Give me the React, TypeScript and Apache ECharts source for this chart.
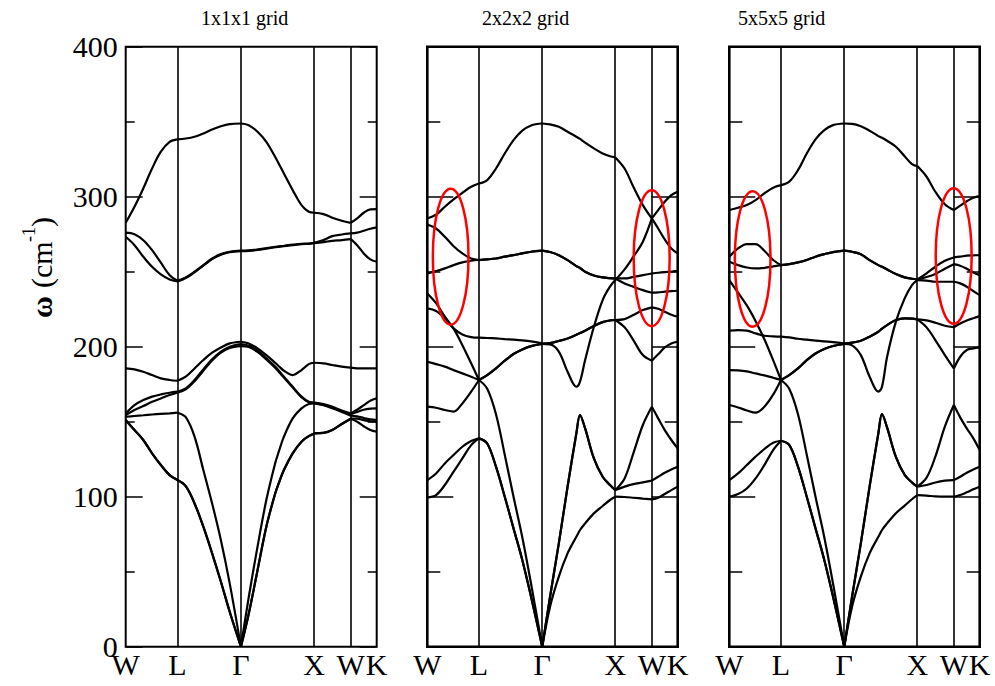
import React, { useEffect, useRef } from "react";
import * as echarts from "echarts";

// path coordinate (units of 2*pi/a) along W-L-Γ-X-W-K
const kPath = [0, 0.12, 0.24, 0.36, 0.48, 0.6, 0.707, 0.82, 0.94, 1.06, 1.18, 1.3, 1.42, 1.573, 1.68, 1.8, 1.92, 2.04, 2.09, 2.16, 2.28, 2.4, 2.5, 2.573, 2.7, 2.82, 2.95, 3.073, 3.16, 3.25, 3.34, 3.427];
const symPoints = [0, 0.707, 1.573, 2.573, 3.073, 3.427];
const symLabels = ["W", "L", "Γ", "X", "W", "K"];
const panelTitles = ["1x1x1 grid", "2x2x2 grid", "5x5x5 grid"];
const yMin = 0;
const yMax = 400;
const yStep = 100;

// 1x1x1 grid bands (cm^-1)
const g1Bands = [
  [282.6, 293.3, 305.5, 318.8, 330, 336.6, 338.2, 338.8, 340, 342.2, 344.8, 347, 348.4, 348.8, 347.7, 343.3, 336.6, 326.6, 322, 315.5, 304.4, 294.4, 290, 289.3, 288.4, 286, 284, 282.6, 285.5, 289.3, 291.5, 291.7],
  [276, 275, 271, 264.4, 256, 247.7, 244, 246.2, 250, 254.4, 258.8, 261.7, 263.3, 264, 264.2, 264.8, 265.7, 266.6, 266.9, 267.3, 268, 268.6, 268.8, 269.3, 271.1, 273.7, 274.8, 275.5, 276, 277.3, 278.6, 279.5],
  [273.3, 267.7, 260, 253.3, 248.2, 244.8, 243.5, 245.8, 249.6, 254, 258.4, 261.3, 263, 263.7, 263.9, 264.5, 265.4, 266.3, 266.6, 267, 267.7, 268.3, 268.6, 269, 269.7, 270.6, 271.1, 271.7, 267.7, 262.2, 258.2, 256.6],
  [185.5, 184.9, 183.3, 181.1, 178.9, 177.8, 177.3, 180, 185.5, 191.1, 196, 199.5, 202.2, 203.3, 202.2, 198.9, 194.4, 189.3, 187, 184, 181.1, 184.4, 188.4, 189.3, 188.9, 187.8, 186.7, 186, 185.6, 185.5, 185.5, 185.5],
  [155.5, 161.1, 164.4, 166.7, 168.2, 169.3, 170, 172.2, 177.8, 184.9, 191.6, 196.7, 200, 201.7, 200.7, 197.3, 192.2, 186.7, 184, 180, 173.3, 166.7, 163.3, 162.7, 161.8, 160, 157.5, 155.5, 158, 161, 164, 165.6],
  [154.4, 157.8, 160.4, 163.3, 165.5, 167.8, 169.3, 171.5, 177, 184, 190.8, 196, 199.2, 200.4, 199.8, 196.5, 191.5, 186, 183.3, 179.4, 172.8, 166.3, 163, 162.5, 161.3, 159.5, 157, 155, 156.5, 158, 158.7, 158.9],
  [153.3, 153.8, 154.3, 154.8, 155.2, 155.6, 156, 153, 140, 117.8, 95.5, 71, 42.2, 0, 33, 66.7, 97.8, 122.2, 130, 140, 152.2, 158.9, 161.8, 162.2, 161, 159, 156.5, 154, 153.5, 152.5, 151.5, 151.1],
  [151.1, 144.4, 137.8, 128.9, 121.1, 114.4, 111.1, 107, 95.5, 80, 62.2, 43.3, 23.3, 0, 22, 51, 80, 102, 109, 117.8, 128.9, 136.7, 140.4, 142.2, 142.5, 144.4, 148.5, 152, 152, 151, 150.3, 150],
  [151.1, 144.4, 137.8, 128.9, 121.1, 114.4, 111.1, 107, 95.5, 80, 62.2, 43.3, 23.3, 0, 22, 51, 80, 102, 109, 117.8, 128.9, 136.7, 140.4, 142.2, 142.5, 144.4, 148.5, 152, 150, 147, 144.5, 143.3],
];

// 2x2x2 grid bands
const g2Bands = [
  [285.5, 288, 293.3, 298.2, 302.6, 306.6, 308.8, 311.1, 318.8, 328.8, 337.7, 344, 347.5, 348.8, 348.2, 346.6, 343.3, 340, 338.5, 336, 332.2, 328.8, 327, 326.2, 318.8, 306.6, 294.4, 285.5, 278.8, 271.5, 265.5, 262.2],
  [281.5, 278.8, 273.3, 267, 262.2, 258.8, 257.8, 258.2, 258.8, 260, 261, 262.2, 263.3, 264, 263.1, 261, 257.7, 253.7, 252.5, 250, 247.5, 246.2, 245.7, 245.5, 245.5, 246.5, 247.7, 248.8, 249.3, 249.7, 250, 250.5],
  [248.8, 250.4, 252.2, 254.4, 256.2, 257.3, 257.8, 258.2, 258.8, 260, 261, 262.2, 263.3, 264, 263.1, 261, 257.7, 253.7, 252.5, 250, 247.5, 246.2, 245.7, 245.5, 242.2, 240, 237.7, 236, 236.2, 236.7, 237.1, 237.3],
  [235.5, 229, 220, 212, 201, 189, 177.8, 172, 155, 128, 100, 73, 42, 0, 33.3, 68.9, 106.7, 142.2, 154.4, 145.5, 125.5, 113.3, 107.8, 104.4, 112.2, 128.9, 147.8, 160, 152.2, 144.4, 137.8, 132.2],
  [225.5, 223.8, 218.9, 212.2, 208.2, 206.4, 206, 205.8, 205.5, 205.1, 204.7, 204.2, 203.5, 202.2, 202.4, 203.8, 205.5, 208, 209.1, 210.7, 213.8, 216.4, 217.5, 217.8, 218.4, 221.1, 224.4, 226.2, 225.3, 223.3, 221.3, 220],
  [190, 188.4, 186.7, 184.4, 182.2, 180, 177.8, 181.1, 185.5, 190.7, 195.1, 198.2, 200.4, 201.8, 201.5, 196.7, 183.3, 173.3, 176.7, 191.1, 213.3, 231.1, 240, 244.4, 251.5, 260, 270, 285.5, 291.1, 296.6, 301.1, 303.3],
  [160, 159.3, 157.8, 156.7, 162.2, 170, 177.8, 181.1, 185.5, 190.7, 195.1, 198.2, 200.4, 201.8, 202.4, 203.8, 205.5, 208, 209.1, 210.7, 213.8, 216.4, 217.5, 217.8, 212.9, 204.4, 194.4, 190.7, 194.9, 199.5, 202.2, 203.3],
  [111.1, 115.5, 122.2, 127.8, 133.3, 137.1, 138.9, 135.5, 120, 100, 78.9, 57.8, 33.3, 0, 33.3, 68.9, 106.7, 142.2, 154.4, 145.5, 125.5, 113.3, 107.8, 104.4, 106.7, 108.4, 109.5, 110.7, 113.3, 116, 118.2, 120],
  [99.5, 101.1, 107.8, 116.7, 125.5, 134.4, 138.9, 135.5, 120, 100, 78.9, 57.8, 33.3, 0, 26.7, 46.7, 62.2, 73.3, 77.8, 82.2, 88.9, 93.8, 97.8, 100, 99.8, 99.3, 98.7, 98.2, 99.3, 101.8, 104.4, 106.7],
];

// 5x5x5 grid bands
const g3Bands = [
  [291.1, 292.6, 294.4, 297.7, 302.2, 306, 307.7, 310, 317.7, 328.8, 338.2, 344.4, 347.7, 348.8, 348.6, 347, 344, 340.4, 339.3, 337.3, 333.3, 327, 321.7, 320.4, 313.3, 303.3, 295, 291.1, 294, 297, 299.3, 300.4],
  [260, 265.5, 268.4, 268.4, 264, 257.8, 254.4, 255, 256.2, 257.8, 260, 261.7, 263.1, 264, 263.3, 261.7, 257.7, 254.4, 253.3, 251.5, 248.4, 246.2, 245.3, 244.8, 248.9, 253.3, 257.3, 259.5, 260, 260.7, 260.9, 261.1],
  [256.6, 254.4, 252.8, 252.2, 252.6, 253.5, 254.4, 255, 256.2, 257.8, 260, 261.7, 263.1, 264, 263.3, 261.7, 257.7, 254.4, 253.3, 251.5, 248.4, 246.2, 245.3, 244.8, 246.5, 248.5, 252, 255, 254, 252, 249.5, 247.7],
  [244.4, 236, 227.5, 217, 205, 191, 177.8, 172, 155, 128, 100, 73, 42, 0, 33.3, 68.9, 106.7, 142.2, 155, 146, 126.5, 114.5, 109.5, 106.7, 112.7, 126.7, 146.7, 161.1, 152.9, 145.5, 138.9, 131.1],
  [210.7, 211.1, 210.7, 208.9, 207.3, 206.9, 206.7, 206.2, 205.3, 204.7, 204, 203.5, 203.1, 202.2, 202.7, 204, 206.7, 210, 212, 214.4, 217.8, 218.9, 218.7, 218.2, 217.5, 216, 214, 213, 215.5, 217.5, 219, 220.4],
  [184.4, 184.2, 183.5, 182.2, 180.9, 179.3, 177.8, 181.1, 185.5, 191, 195.5, 198.5, 200.5, 201.8, 200.9, 194.4, 180, 170, 173.3, 193.3, 216.7, 232.2, 241.1, 244.4, 244, 243.3, 243.3, 243.3, 242.2, 240, 237.1, 234.4],
  [161.1, 159.5, 157.5, 156, 160, 168, 177.8, 181.1, 185.5, 191, 195.5, 198.5, 200.5, 201.8, 202.7, 204, 206.7, 210, 212, 214.4, 217.8, 218.9, 218.7, 218.2, 212.9, 204.4, 194.4, 185.5, 193.3, 197.8, 198.9, 199.5],
  [111.1, 115.5, 121.1, 126.7, 131.8, 136, 137.3, 134.5, 120, 100, 78.9, 57.8, 33.3, 0, 33.3, 68.9, 106.7, 142.2, 155, 146, 126.5, 114.5, 109.5, 106.7, 107.8, 109.5, 110.7, 111.1, 113.3, 116, 118.2, 120],
  [100, 101.8, 105.5, 112.2, 121.1, 131.1, 137.3, 134.5, 120, 100, 78.9, 57.8, 33.3, 0, 26.7, 46.7, 62.2, 73.3, 77.8, 82.2, 89, 94, 98.3, 101, 100.7, 100.2, 100, 100, 101.1, 102.9, 104.9, 106.7],
];

// red ellipse annotations: [k centre, ω centre, k radius, ω radius]
const g2Ellipses = [
  [0.32, 260, 0.244, 45.3],
  [3.071, 259, 0.246, 45.3],
];
const g3Ellipses = [
  [0.32, 258.5, 0.244, 45.2],
  [3.071, 260.5, 0.246, 45.2],
];

const panelBands = [g1Bands, g2Bands, g3Bands];
const panelEllipses = [[], g2Ellipses, g3Ellipses];

// layout (px)
const gridLefts = [125.7, 427.3, 729.3];
const gridWidths = [251, 250.4, 250.4];
const gridTop = 46.7;
const gridHeight = 600;
const titleLefts = [201, 482, 738];
const FONT = "'Liberation Serif', 'Times New Roman', serif";

function symIndex(k: number) {
  return kPath.indexOf(k);
}

function buildOption() {
  const segBounds = symPoints.map(symIndex);
  const grids: any[] = [];
  const xAxes: any[] = [];
  const yAxes: any[] = [];
  const series: any[] = [];

  for (let p = 0; p < 3; p++) {
    const majorLen = p === 0 ? 17 : 26;
    const minorLen = p === 0 ? 9 : 13;
    grids.push({
      left: gridLefts[p],
      top: gridTop,
      width: gridWidths[p],
      height: gridHeight,
      show: true,
      borderColor: "#000",
      borderWidth: p === 0 ? 2 : 2.6,
      backgroundColor: "transparent",
    });
    xAxes.push({
      gridIndex: p,
      type: "value",
      min: symPoints[0],
      max: symPoints[symPoints.length - 1],
      axisLine: { show: false },
      axisTick: { show: false },
      splitLine: { show: false },
      axisLabel: {
        customValues: symPoints,
        formatter: (v: number) => {
          const i = symPoints.indexOf(v);
          return i >= 0 ? symLabels[i] : "";
        },
        fontFamily: FONT,
        fontSize: 30,
        color: "#000",
        margin: 3,
      },
    });
    for (const pos of ["left", "right"]) {
      yAxes.push({
        gridIndex: p,
        type: "value",
        position: pos,
        min: yMin,
        max: yMax,
        interval: yStep,
        axisLine: { show: false },
        axisTick: { show: true, inside: true, length: majorLen, lineStyle: { color: "#000", width: 1.5 } },
        minorTick: { show: true, splitNumber: 2, length: minorLen, lineStyle: { color: "#000", width: 1.5 } },
        splitLine: { show: false },
        minorSplitLine: { show: false },
        axisLabel: {
          show: p === 0 && pos === "left",
          fontFamily: FONT,
          fontSize: 30,
          color: "#000",
          margin: 8,
        },
      });
    }

    const bands = panelBands[p];
    bands.forEach((band, b) => {
      for (let s = 0; s < segBounds.length - 1; s++) {
        const a = segBounds[s];
        const e = segBounds[s + 1];
        const data = kPath.slice(a, e + 1).map((k, j) => [k, band[a + j]]);
        const ser: any = {
          type: "line",
          xAxisIndex: p,
          yAxisIndex: 2 * p,
          data,
          showSymbol: false,
          smooth: 0.35,
          silent: true,
          lineStyle: { color: "#000", width: 2.2 },
          z: 3,
        };
        if (b === 0 && s === 0) {
          ser.markLine = {
            silent: true,
            symbol: "none",
            label: { show: false },
            lineStyle: { color: "#000", width: 1.6, type: "solid" },
            data: symPoints.slice(1, symPoints.length - 1).map((k) => ({ xAxis: k })),
            z: 1,
          };
        }
        series.push(ser);
      }
    });

    if (panelEllipses[p].length) {
      series.push({
        type: "custom",
        xAxisIndex: p,
        yAxisIndex: 2 * p,
        data: panelEllipses[p],
        silent: true,
        z: 5,
        renderItem: (params: any, api: any) => {
          const c = api.coord([api.value(0), api.value(1)]);
          const sz = api.size([api.value(2), api.value(3)]);
          return {
            type: "ellipse",
            shape: { cx: c[0], cy: c[1], rx: sz[0], ry: sz[1] },
            style: { fill: "none", stroke: "#ff0000", lineWidth: 2.5 },
          };
        },
      });
    }
  }

  const nameStyle = (text: string, size: number, weight = "normal") => ({
    text,
    fill: "#000",
    fontFamily: FONT,
    fontSize: size,
    fontWeight: weight,
    align: "left",
    verticalAlign: "middle",
  });

  return {
    animation: false,
    backgroundColor: "#fff",
    title: panelTitles.map((t, i) => ({
      text: t,
      left: titleLefts[i],
      top: 8,
      padding: 0,
      textStyle: { fontFamily: FONT, fontSize: 20, fontWeight: "normal", color: "#000" },
    })),
    grid: grids,
    xAxis: xAxes,
    yAxis: yAxes,
    series,
    graphic: [
      {
        type: "group",
        x: 41,
        y: 266,
        rotation: Math.PI / 2,
        children: [
          { type: "text", x: -52, y: 0, style: nameStyle("ω", 30, "bold") },
          { type: "text", x: -22, y: 0, style: nameStyle("(cm", 30) },
          { type: "text", x: 24, y: -12, style: nameStyle("-1", 18) },
          { type: "text", x: 39, y: 0, style: nameStyle(")", 30) },
        ],
      },
    ],
  };
}

export default function App() {
  const ref = useRef<HTMLDivElement>(null);
  useEffect(() => {
    const chart = echarts.init(ref.current!, null, { renderer: "svg" });
    chart.setOption(buildOption());
    return () => chart.dispose();
  }, []);
  return (
    <div
      ref={ref}
      style={{ position: "absolute", left: 0, top: 0, width: 995, height: 686, background: "#fff" }}
    />
  );
}
